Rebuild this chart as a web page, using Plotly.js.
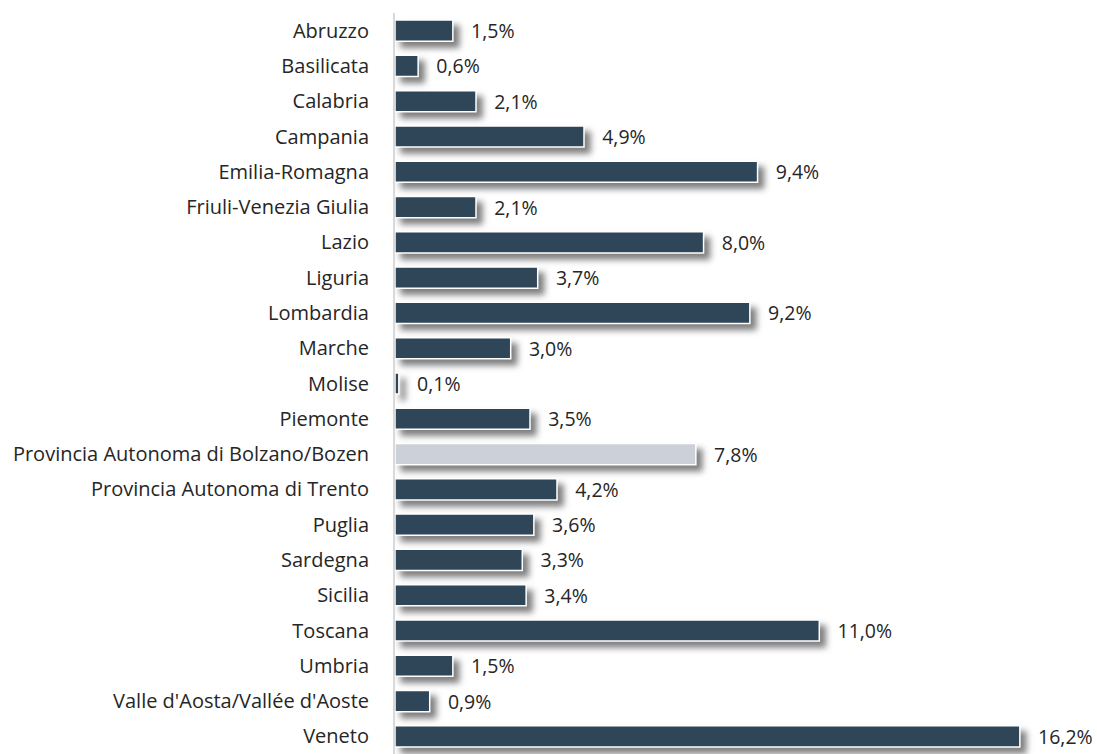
<!DOCTYPE html>
<html>
<head>
<meta charset="utf-8">
<script src="https://cdn.plot.ly/plotly-3.0.1.min.js"></script>
<style>
html,body{margin:0;padding:0;background:#fff;}
#chart{width:1097px;height:754px;}
#chart .bars .point path{filter:drop-shadow(6px 6px 3px rgba(0,0,0,0.5));}
</style>
</head>
<body>
<div id="chart"></div>
<script>
const regions = ["Abruzzo","Basilicata","Calabria","Campania","Emilia-Romagna","Friuli-Venezia Giulia","Lazio","Liguria","Lombardia","Marche","Molise","Piemonte","Provincia Autonoma di Bolzano/Bozen","Provincia Autonoma di Trento","Puglia","Sardegna","Sicilia","Toscana","Umbria","Valle d'Aosta/Vallée d'Aoste","Veneto"];
const shares = [1.5,0.6,2.1,4.9,9.4,2.1,8.0,3.7,9.2,3.0,0.1,3.5,7.8,4.2,3.6,3.3,3.4,11.0,1.5,0.9,16.2];
const highlight = "Provincia Autonoma di Bolzano/Bozen";
const colors = regions.map(r => r === highlight ? "#ccd1d9" : "#2f4558");

const trace = {
  type: "bar",
  orientation: "h",
  y: regions,
  x: shares,
  width: 0.6,
  marker: {color: colors, line: {color: "#ffffff", width: 1.5}},
  texttemplate: "   %{x:.1f}%",
  textposition: "outside",
  constraintext: "none",
  cliponaxis: false,
  textfont: {family: "Open Sans, Noto Sans, sans-serif", size: 19.5, color: "#262626"},
  hoverinfo: "none"
};

const layout = {
  width: 1097, height: 754,
  margin: {l: 395, r: 0, t: 13, b: 0},
  paper_bgcolor: "#ffffff",
  plot_bgcolor: "#ffffff",
  separators: ",.",
  showlegend: false,
  bargap: 0.4,
  xaxis: {range: [0, 18.2], visible: false, fixedrange: true},
  yaxis: {
    autorange: "reversed",
    showline: true, linecolor: "#d9d9d9", linewidth: 2,
    showgrid: false, zeroline: false,
    ticks: "", ticklabelstandoff: 20,
    tickfont: {family: "Open Sans, Noto Sans, sans-serif", size: 20, color: "#262626"}
  }
};

Plotly.newPlot("chart", [trace], layout, {displayModeBar: false, staticPlot: true});
</script>
</body>
</html>
